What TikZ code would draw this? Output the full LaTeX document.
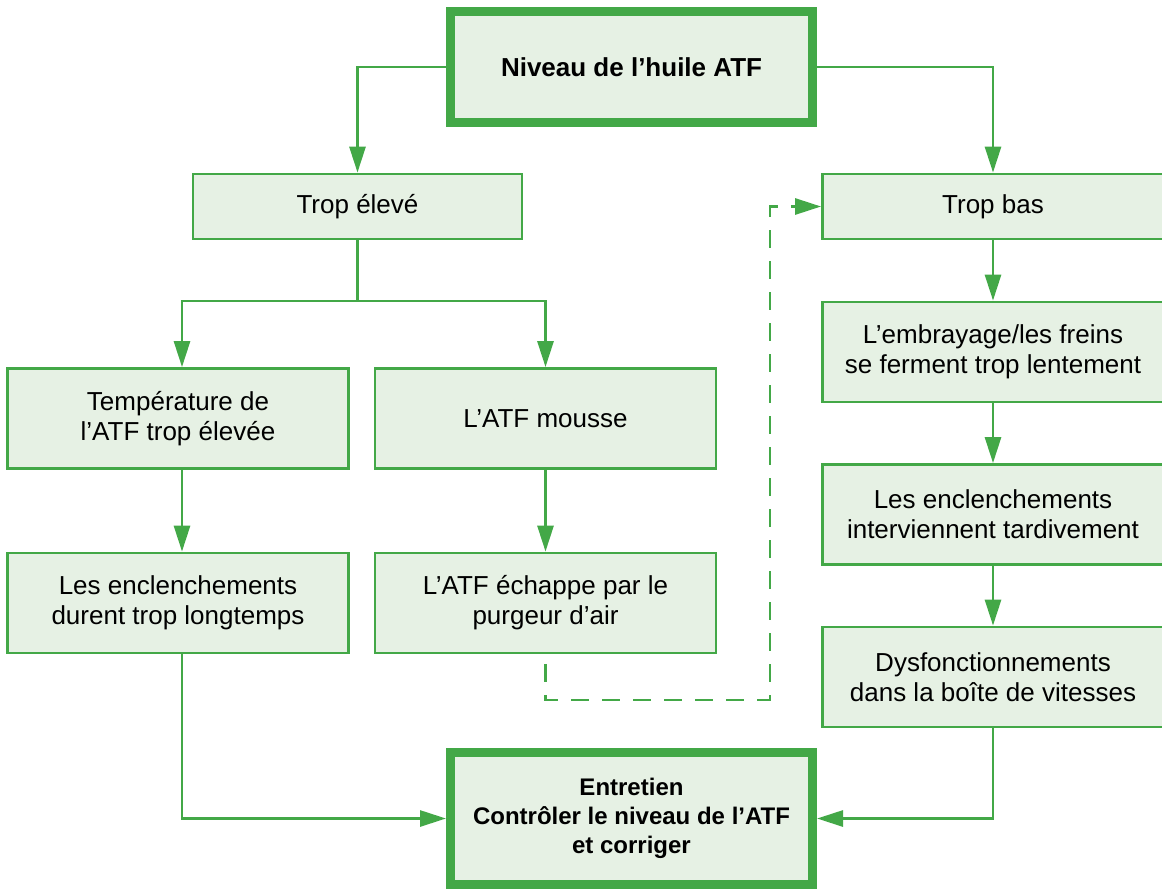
\documentclass[tikz,border=0pt]{standalone}
\usepackage{fontspec}
\setmainfont{Liberation Sans}
\usetikzlibrary{arrows.meta,calc}
\definecolor{gr}{RGB}{67,168,71}
\definecolor{lf}{RGB}{230,241,228}
\begin{document}
\begin{tikzpicture}[x=0.5pt,y=-0.5pt,
  box/.style={draw=gr,fill=lf,line width=1.4pt,minimum width=170.5pt,minimum height=50pt,align=center,font=\fontsize{13}{15}\selectfont,inner sep=0pt},
  bigbox/.style={box,line width=4.5pt,minimum width=181pt,font=\fontsize{13}{15}\selectfont\bfseries},
  conn/.style={draw=gr,line width=1.4pt},
  arr/.style={conn,-{Triangle[length=13pt 0,width=8pt 0]}},
  dconn/.style={arr,dash pattern=on 9pt off 6.5pt},
]
\useasboundingbox (0,0) rectangle (1162,890);

\node[bigbox,minimum height=55.5pt] (top) at (631.5,67) {Niveau de l’huile ATF};
\node[box,minimum width=164.5pt,minimum height=32.5pt] (tel) at (357.5,206.5) {Trop élevé};
\node[box,minimum height=32.5pt] (tbas) at (993,206.5) {Trop bas};

\node[box] (temp) at (178,418.5) {Température de\\l’ATF trop élevée};
\node[box] (mousse) at (545.5,418.5) {L’ATF mousse};
\node[box] (durent) at (178,603) {Les enclenchements\\durent trop longtemps};
\node[box] (echappe) at (545.5,603) {L’ATF échappe par le\\purgeur d’air};

\node[box] (embr) at (993,352) {L’embrayage/les freins\\se ferment trop lentement};
\node[box] (interv) at (993,514.5) {Les enclenchements\\interviennent tardivement};
\node[box] (dysf) at (993,677) {Dysfonctionnements\\dans la boîte de vitesses};

\node[bigbox,minimum height=66pt,font=\fontsize{12}{14.5}\selectfont\bfseries] (entr) at (631.5,818.5) {Entretien\\Contrôler le niveau de l’ATF\\et corriger};

% connectors
\draw[arr] (top.west) -| (tel.north);
\draw[arr] (top.east) -| (tbas.north);

\coordinate (br) at (357.5,301);
\draw[conn] (tel.south) -- (br);
\draw[arr] (br) -| ([xshift=2pt]temp.north);
\draw[arr] (br) -| (mousse.north);

\draw[arr] ([xshift=2pt]temp.south) -- ([xshift=2pt]durent.north);
\draw[arr] (mousse.south) -- (echappe.north);
\draw[arr] ([xshift=2pt]durent.south) |- (entr.west);

\draw[arr] (tbas.south) -- (embr.north);
\draw[arr] (embr.south) -- (interv.north);
\draw[arr] (interv.south) -- (dysf.north);
\draw[arr] (dysf.south) |- (entr.east);

\coordinate (d1) at (770,700);
\draw[dconn] ([yshift=-4.75pt]echappe.south) |- (d1) |- (tbas.west);
\end{tikzpicture}
\end{document}
